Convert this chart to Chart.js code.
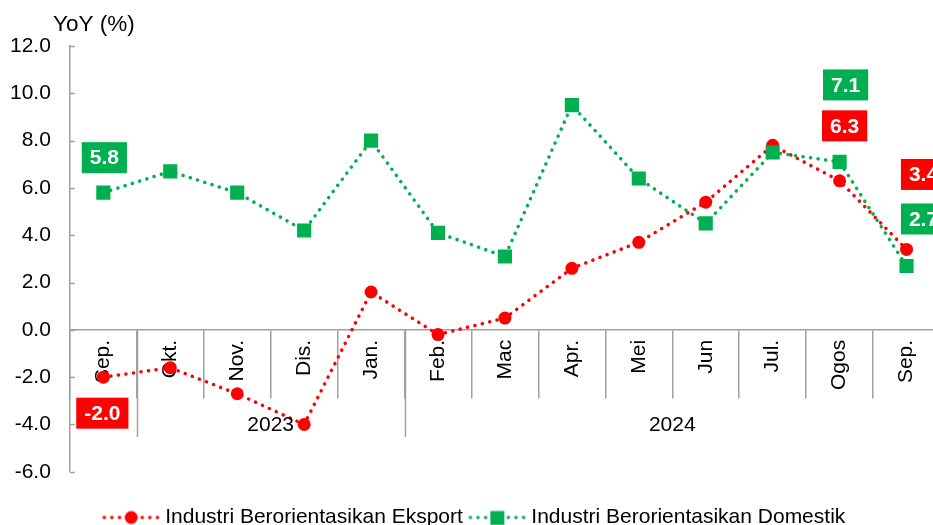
<!DOCTYPE html>
<html>
<head>
<meta charset="utf-8">
<script src="https://cdn.jsdelivr.net/npm/chart.js@4.4.1/dist/chart.umd.min.js"></script>
<style>
    html, body { margin: 0; padding: 0; background: #fff; overflow: hidden; }
    #wrap { width: 933px; height: 525px; overflow: hidden; position: relative; }
</style>
</head>
<body>
<div id="wrap"><canvas id="chart" width="950" height="525"></canvas></div>
<script>
// data
const months = ['Sep.', 'Okt.', 'Nov.', 'Dis.', 'Jan.', 'Feb.', 'Mac', 'Apr.', 'Mei', 'Jun', 'Jul.', 'Ogos', 'Sep.'];
const years = ['2023', '2024'];
const yearBreaks = [0.5, 4.5, 12.5];   // category boundaries of the year groups
const eksport = [-2.0, -1.6, -2.7, -4.0, 1.6, -0.2, 0.5, 2.6, 3.7, 5.4, 7.8, 6.3, 3.4];
const domestik = [5.8, 6.7, 5.8, 4.2, 8.0, 4.1, 3.1, 9.5, 6.4, 4.5, 7.5, 7.1, 2.7];
const yMin = -6, yMax = 12, yStep = 2;

const RED = '#ff0000';
const GREEN = '#00b050';
const AXIS = '#a0a0a0';
const FONT = "'Liberation Sans', Arial, sans-serif";

// which points get a value box, and where the box sits relative to the point
const valueBoxes = [
    { ds: 1, i: 0, dx: 1, dy: -35 },
    { ds: 0, i: 0, dx: -1, dy: 36 },
    { ds: 1, i: 11, dx: 6, dy: -77 },
    { ds: 0, i: 11, dx: 5, dy: -55 },
    { ds: 0, i: 12, dx: 17, dy: -75 },
    { ds: 1, i: 12, dx: 17, dy: -47 }
];

// legend marker: dotted line with the point marker in the middle
function legendMark(color, shape) {
    const c = document.createElement('canvas');
    c.width = 59; c.height = 16;
    const g = c.getContext('2d');
    g.strokeStyle = color;
    g.lineWidth = 3.5;
    g.lineCap = 'round';
    g.setLineDash([0.1, 7.5]);
    g.beginPath(); g.moveTo(3, 8); g.lineTo(57, 8); g.stroke();
    g.fillStyle = color;
    if (shape === 'circle') {
        g.beginPath(); g.arc(30, 8, 6.5, 0, Math.PI * 2); g.fill();
    } else {
        g.fillRect(23, 1.5, 14, 14);
    }
    return c;
}
const legendMarks = [legendMark(RED, 'circle'), legendMark(GREEN, 'rect')];

const extras = {
    id: 'extras',
    afterLayout(chart) {
        // legend sits a little right of the canvas centre in the original
        chart.legend.left += 4;
        chart.legend.right += 4;
    },
    afterDraw(chart) {
        const ctx = chart.ctx;
        const x = chart.scales.x, y = chart.scales.y;
        const zeroY = y.getPixelForValue(0);
        ctx.save();

        // inner tick marks on the y axis
        ctx.strokeStyle = AXIS;
        ctx.lineWidth = 1.5;
        y.ticks.forEach(t => {
            const py = Math.round(y.getPixelForValue(t.value)) + 0.5;
            ctx.beginPath(); ctx.moveTo(x.left, py); ctx.lineTo(x.left + 5, py); ctx.stroke();
        });

        // year group separators and labels
        yearBreaks.slice(0, -1).forEach(b => {
            const px = Math.round(x.getPixelForValue(b)) + 0.5;
            ctx.beginPath(); ctx.moveTo(px, zeroY); ctx.lineTo(px, zeroY + 107); ctx.stroke();
        });
        ctx.fillStyle = '#000';
        ctx.font = '21px ' + FONT;
        ctx.textAlign = 'center';
        ctx.textBaseline = 'middle';
        years.forEach((yr, k) => {
            const mid = (x.getPixelForValue(yearBreaks[k]) + x.getPixelForValue(yearBreaks[k + 1])) / 2;
            ctx.fillText(yr, mid, zeroY + 95);
        });

        // axis title
        ctx.font = '22.5px ' + FONT;
        ctx.textAlign = 'left';
        ctx.fillText('YoY (%)', 53, 25);

        // value boxes
        ctx.font = 'bold 21px ' + FONT;
        ctx.textAlign = 'center';
        valueBoxes.forEach(b => {
            const pt = chart.getDatasetMeta(b.ds).data[b.i];
            const txt = chart.data.datasets[b.ds].data[b.i].toFixed(1);
            const w = ctx.measureText(txt).width + 16;
            const h = 31;
            const cx = pt.x + b.dx, cy = pt.y + b.dy;
            ctx.fillStyle = b.ds === 0 ? RED : GREEN;
            ctx.fillRect(cx - w / 2, cy - h / 2, w, h);
            ctx.fillStyle = '#fff';
            ctx.fillText(txt, cx, cy + 1);
        });
        ctx.restore();
    }
};

new Chart(document.getElementById('chart'), {
    type: 'line',
    data: {
        labels: months,
        datasets: [{
            label: 'Industri Berorientasikan Eksport',
            data: eksport,
            order: 1,
            borderColor: RED,
            backgroundColor: RED,
            borderWidth: 3.5,
            borderDash: [0.1, 7.5],
            borderCapStyle: 'round',
            pointStyle: 'circle',
            pointRadius: 6.5,
            pointBorderWidth: 0,
            tension: 0
        }, {
            label: 'Industri Berorientasikan Domestik',
            data: domestik,
            order: 0,
            borderColor: GREEN,
            backgroundColor: GREEN,
            borderWidth: 3.5,
            borderDash: [0.1, 7.5],
            borderCapStyle: 'round',
            pointStyle: 'rect',
            pointRadius: 10,
            pointBorderWidth: 0,
            tension: 0
        }]
    },
    options: {
        responsive: false,
        animation: false,
        layout: { padding: { left: -9, right: -3, top: 46, bottom: -13 } },
        scales: {
            x: {
                position: { y: 0 },
                offset: true,
                grid: {
                    offset: true,
                    drawOnChartArea: false,
                    drawTicks: true,
                    tickLength: 68,
                    color: AXIS,
                    lineWidth: 1.5
                },
                border: { color: AXIS, width: 1.5 },
                ticks: {
                    color: '#000',
                    font: { size: 21, family: FONT },
                    minRotation: 90,
                    maxRotation: 90,
                    autoSkip: false,
                    padding: -58
                }
            },
            y: {
                min: yMin,
                max: yMax,
                grid: { drawOnChartArea: false, drawTicks: false },
                border: { color: AXIS, width: 1.5 },
                ticks: {
                    stepSize: yStep,
                    color: '#000',
                    padding: 19,
                    font: { size: 21, family: FONT },
                    callback: v => v.toFixed(1)
                }
            }
        },
        plugins: {
            tooltip: { enabled: false },
            legend: {
                position: 'bottom',
                title: { display: true, text: ' ', font: { size: 1 }, padding: { top: 24, bottom: 0 } },
                labels: {
                    usePointStyle: true,
                    pointStyleWidth: 48,
                    padding: 10,
                    color: '#000',
                    font: { size: 21, family: FONT },
                    generateLabels(chart) {
                        const items = Chart.defaults.plugins.legend.labels.generateLabels(chart);
                        items.sort((a, b) => a.datasetIndex - b.datasetIndex);
                        items.forEach(it => { it.pointStyle = legendMarks[it.datasetIndex]; });
                        return items;
                    }
                }
            }
        }
    },
    plugins: [extras]
});
</script>
</body>
</html>
